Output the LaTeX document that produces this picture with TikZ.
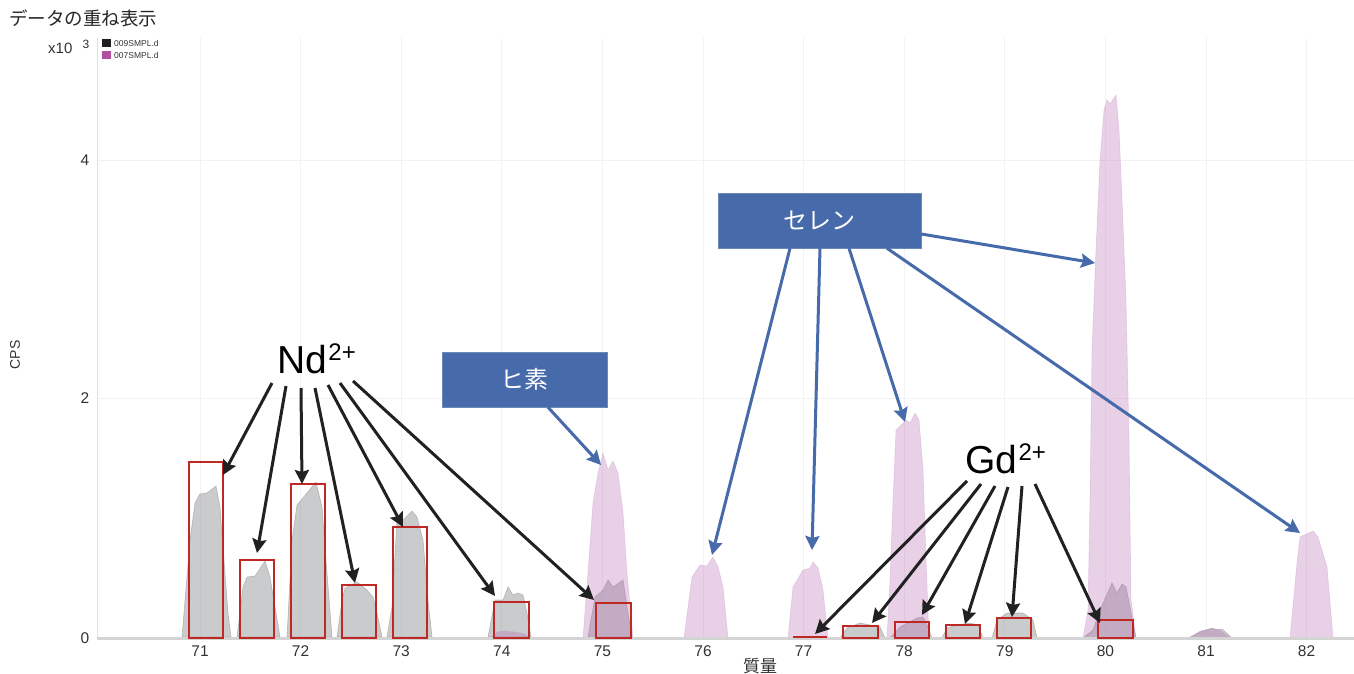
\documentclass[tikz,border=0pt]{standalone}
\usepackage{fontspec}
\setmainfont{Liberation Sans}
\newfontfamily\jp{Noto Sans CJK JP}
\usetikzlibrary{arrows.meta}
\definecolor{blueb}{RGB}{70,106,170}
\definecolor{redb}{RGB}{192,40,36}
\definecolor{graypk}{RGB}{150,152,156}
\definecolor{pinkpk}{RGB}{180,100,175}
\definecolor{legpink}{RGB}{176,80,160}
\definecolor{gridc}{RGB}{242,242,244}
\begin{document}
\begin{tikzpicture}[x=1pt,y=-1pt,
  gpk/.style={fill=graypk,fill opacity=0.5,draw=black!45,draw opacity=0.5,line width=0.6pt},
  ppk/.style={fill=pinkpk,fill opacity=0.3,draw=pinkpk!70,draw opacity=0.35,line width=0.6pt},
  redbox/.style={draw=redb,line width=2.4pt},
  blkarr/.style={draw=black!87,line width=3pt,-{Stealth[length=14pt,width=14pt,inset=2pt]}},
  bluarr/.style={draw=blueb,line width=3pt,-{Stealth[length=14pt,width=14pt,inset=2pt]}},
  bluebox/.style={fill=blueb,draw=blueb!80!white,line width=0.5pt,text=white,minimum height=55pt,inner sep=0pt,font=\jp\fontsize{24}{28}\selectfont},
  tick/.style={font=\fontsize{15.5}{18}\selectfont,text=black!80,inner sep=0pt},
  ion/.style={font=\fontsize{39}{44}\selectfont,inner sep=0pt,anchor=base west},
  sup/.style={font=\fontsize{24}{26}\selectfont,inner sep=0pt,anchor=base west},
  leg/.style={font=\fontsize{8.5}{10}\selectfont,text=black!80,anchor=west,inner sep=0pt}
]
\useasboundingbox (0,0) rectangle (1354,674);
\fill[white] (0,0) rectangle (1354,674);
% grid
\foreach \m in {71,...,82} \draw[gridc,line width=0.8pt] ({200+100.6*(\m-71)},38) -- ++(0,600);
\foreach \yy in {160,398} \draw[gridc,line width=0.8pt] (97,\yy) -- (1354,\yy);
\draw[black!12,line width=0.8pt] (97,38) -- (97,638);
% gray peaks (009SMPL.d)
\filldraw[gpk] (182,637) -- (190,540) -- (195,503) -- (200,494) -- (207,493) -- (216,486) -- (220,507) -- (223,547) -- (228,613) -- (231,637) -- cycle;
\filldraw[gpk] (237,637) -- (243,587) -- (247,577) -- (255,576) -- (265,561) -- (270,577) -- (275,607) -- (280,637) -- cycle;
\filldraw[gpk] (287,637) -- (292,540) -- (297,505) -- (307,493) -- (316,482) -- (322,507) -- (327,573) -- (332,637) -- cycle;
\filldraw[gpk] (337,637) -- (342,600) -- (345,588) -- (357,582) -- (367,590) -- (373,597) -- (377,613) -- (382,637) -- cycle;
\filldraw[gpk] (387,637) -- (392,607) -- (397,520) -- (403,520) -- (412,511) -- (417,517) -- (423,540) -- (428,600) -- (432,637) -- cycle;
\filldraw[gpk] (488,637) -- (495,600) -- (503,600) -- (508,587) -- (513,595) -- (518,593) -- (523,595) -- (527,613) -- (531,637) -- cycle;
\filldraw[gpk] (588,637) -- (595,597) -- (603,590) -- (608,580) -- (613,587) -- (623,580) -- (628,613) -- (632,637) -- cycle;
\filldraw[gpk] (840,638) -- (847,628) -- (860,623) -- (870,625) -- (880,627) -- (885,638) -- cycle;
\filldraw[gpk] (890,638) -- (900,627) -- (917,618) -- (923,617) -- (928,627) -- (932,638) -- cycle;
\filldraw[gpk] (942,638) -- (947,628) -- (957,625) -- (970,623) -- (978,625) -- (983,638) -- cycle;
\filldraw[gpk] (992,638) -- (997,620) -- (1007,613) -- (1023,613) -- (1033,620) -- (1037,638) -- cycle;
\filldraw[gpk] (1083,638) -- (1093,630) -- (1100,610) -- (1112,583) -- (1117,593) -- (1122,584) -- (1126,587) -- (1130,607) -- (1136,638) -- cycle;
\filldraw[gpk] (1188,638) -- (1200,632) -- (1212,628) -- (1217,630) -- (1222,629) -- (1232,638) -- cycle;
% pink peaks (007SMPL.d)
\filldraw[ppk] (490,638) -- (497,632) -- (505,631) -- (515,632) -- (525,634) -- (530,638) -- cycle;
\filldraw[ppk] (583,638) -- (588,573) -- (593,503) -- (598,473) -- (603,453) -- (608,470) -- (613,461) -- (618,473) -- (623,513) -- (627,573) -- (633,638) -- cycle;
\filldraw[ppk] (684,638) -- (692,577) -- (700,565) -- (707,566) -- (713,557) -- (718,567) -- (723,587) -- (728,638) -- cycle;
\filldraw[ppk] (788,638) -- (793,587) -- (803,570) -- (810,568) -- (813,562) -- (818,568) -- (823,590) -- (828,638) -- cycle;
\filldraw[ppk] (887,638) -- (890,580) -- (893,500) -- (896,430) -- (901,425) -- (906,420) -- (910,423) -- (915,413) -- (919,420) -- (923,470) -- (926,560) -- (929,638) -- cycle;
\filldraw[ppk] (1083,638) -- (1088,610) -- (1090,500) -- (1092,350) -- (1096,250) -- (1100,160) -- (1104,110) -- (1107,100) -- (1110,104) -- (1116,95) -- (1119,130) -- (1122,200) -- (1126,300) -- (1129,440) -- (1131,600) -- (1136,638) -- cycle;
\filldraw[ppk] (1190,638) -- (1200,631) -- (1210,629) -- (1218,629) -- (1230,638) -- cycle;
\filldraw[ppk] (1290,638) -- (1297,563) -- (1300,537) -- (1313,531) -- (1318,537) -- (1327,567) -- (1333,638) -- cycle;
% axis line
\draw[black!17,line width=2.5pt] (97,638.5) -- (1354,638.5);
% red boxes
\draw[redbox] (189,638) rectangle (223,462);
\draw[redbox] (240,638) rectangle (274,560);
\draw[redbox] (291,638) rectangle (325,484);
\draw[redbox] (342,638) rectangle (376,585);
\draw[redbox] (393,638) rectangle (427,527);
\draw[redbox] (494,638) rectangle (529,602);
\draw[redbox] (596,638) rectangle (631,603);
\draw[redb,line width=2pt] (793,637) -- (827,637);
\draw[redbox] (843,638) rectangle (878,626);
\draw[redbox] (895,638) rectangle (929,622);
\draw[redbox] (946,638) rectangle (980,625);
\draw[redbox] (997,638) rectangle (1031,618);
\draw[redbox] (1098,638) rectangle (1133,620);
% axis texts
\node[tick] (y0) at (85,638) {0};
\node[tick] (y2) at (85,398) {2};
\node[tick] (y4) at (85,160) {4};
\foreach \m in {71,...,82} \node[tick] (xl\m) at ({200+100.6*(\m-71)},651) {\m};
\node[font=\jp\fontsize{17}{20}\selectfont,text=black!80] (xlab) at (760,666) {質量};
\node[font=\fontsize{14}{16}\selectfont,text=black!80,rotate=90] (ylab) at (15,355) {CPS};
\node[font=\jp\fontsize{18.5}{22}\selectfont,text=black!85,anchor=west,inner sep=0pt] (title) at (9,18) {データの重ね表示};
\node[font=\fontsize{15}{18}\selectfont,text=black!80,anchor=base west,inner sep=0pt] (xten) at (48,54) {x10};
\node[font=\fontsize{12}{13}\selectfont,text=black!80,inner sep=0pt] (xexp) at (86,44) {3};
% legend
\fill[black!88] (102,39) rectangle (111,47);
\fill[legpink] (102,51) rectangle (111,59);
\node[leg] (l1) at (114,43) {009SMPL.d};
\node[leg] (l2) at (114,55) {007SMPL.d};
% blue boxes
\node[bluebox,minimum width=203pt] (se) at (819.5,220.5) {セレン};
\node[bluebox,minimum width=165pt] (hi) at (524.5,379.5) {ヒ素};
% ion labels
\node[ion] (nd) at (277,373) {Nd};
\node[sup] (ndsup) at (nd.base east) [xshift=1pt,yshift=13pt] {2+};
\node[ion] (gd) at (965,473) {Gd};
\node[sup] (gdsup) at (gd.base east) [xshift=1pt,yshift=13pt] {2+};
% arrow coordinates
\coordinate (n1) at (272,383); \coordinate (t1) at (223,475);
\coordinate (n2) at (286,386); \coordinate (t2) at (257,553);
\coordinate (n3) at (301,388); \coordinate (t3) at (302,484);
\coordinate (n4) at (315,388); \coordinate (t4) at (355,583);
\coordinate (n5) at (328,385); \coordinate (t5) at (403,527);
\coordinate (n6) at (340,383); \coordinate (t6) at (495,596);
\coordinate (n7) at (353,381); \coordinate (t7) at (594,600);
\foreach \i in {1,...,7} \draw[blkarr] (n\i) -- (t\i);
\coordinate (g1) at (967,481); \coordinate (u1) at (815,634);
\coordinate (g2) at (981,484); \coordinate (u2) at (872,623);
\coordinate (g3) at (995,486); \coordinate (u3) at (922,615);
\coordinate (g4) at (1008,487); \coordinate (u4) at (965,624);
\coordinate (g5) at (1022,486); \coordinate (u5) at (1012,617);
\coordinate (g6) at (1035,484); \coordinate (u6) at (1100,623);
\foreach \i in {1,...,6} \draw[blkarr] (g\i) -- (u\i);
\coordinate (p76) at (712,555);
\coordinate (p77) at (812,550);
\coordinate (p78) at (905,422);
\coordinate (p80) at (1095,263);
\coordinate (p82) at (1300,533);
\coordinate (p75) at (601,465);
\draw[bluarr] (790,0 |- se.south) -- (p76);
\draw[bluarr] (820,0 |- se.south) -- (p77);
\draw[bluarr] (849,0 |- se.south) -- (p78);
\draw[bluarr] (887,0 |- se.south) -- (p82);
\draw[bluarr] (se.east |- 0,234) -- (p80);
\draw[bluarr] (548,0 |- hi.south) -- (p75);
\end{tikzpicture}
\end{document}
